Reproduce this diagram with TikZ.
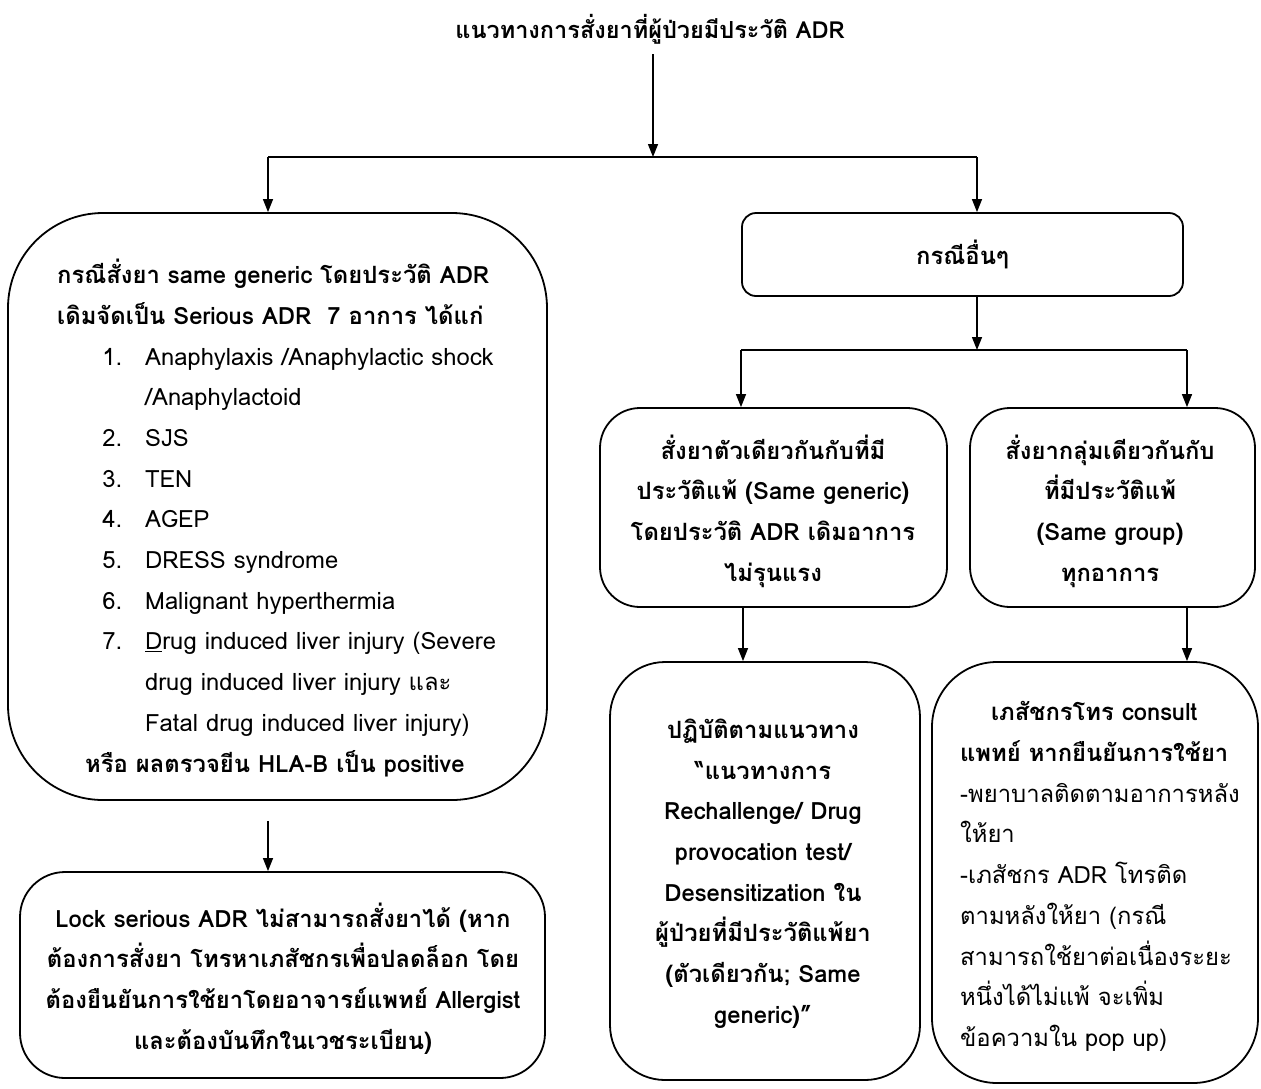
\documentclass[tikz,border=0pt]{standalone}
\usepackage{fontspec}
\setmainfont[Script=Thai]{Loma}
\usetikzlibrary{arrows.meta}
\begin{document}
\begin{tikzpicture}[x=1pt,y=-1pt,
  box/.style={draw, line width=1.8pt, inner sep=0pt},
  link/.style={line width=1.4pt},
  arr/.style={link, -{Triangle[length=13pt,width=10pt]}},
  body/.style={font=\fontsize{23.8}{40.7}\selectfont, inner sep=0pt},
  bodyb/.style={body, font=\bfseries\fontsize{23.8}{40.7}\selectfont, align=center}]
\useasboundingbox (0,0) rectangle (1261,1088);

% title
\node[font=\bfseries\fontsize{23.5}{26}\selectfont, inner sep=0pt] (T) at (650,29) {แนวทางการสั่งยาที่ผู้ป่วยมีประวัติ ADR};

% boxes
\node[box, rounded corners=95pt, minimum width=539pt, minimum height=587pt] (L) at (277.5,506.5) {};
\node[box, rounded corners=14pt, minimum width=441pt, minimum height=83pt] (O) at (962.5,254.5) {};
\node[box, rounded corners=40pt, minimum width=347pt, minimum height=199pt] (G) at (773.5,507.5) {};
\node[box, rounded corners=40pt, minimum width=285pt, minimum height=199pt] (P) at (1112.5,507.5) {};
\node[box, rounded corners=55pt, minimum width=310pt, minimum height=418pt] (R) at (765,871) {};
\node[box, rounded corners=65pt, minimum width=326pt, minimum height=421pt] (C) at (1095,872.5) {};
\node[box, rounded corners=45pt, minimum width=525pt, minimum height=206pt] (K) at (282.5,975) {};

% texts
\node[body, anchor=north west, align=left] (Ltxt) at (57,259) {%
{\bfseries กรณีสั่งยา same generic โดยประวัติ ADR}\\
{\bfseries เดิมจัดเป็น Serious ADR\ \ 7 อาการ ได้แก่}\\
\hspace*{48pt}\makebox[17pt][r]{1.}\hspace{23pt}Anaphylaxis /Anaphylactic shock\\
\hspace*{88pt}/Anaphylactoid\\
\hspace*{48pt}\makebox[17pt][r]{2.}\hspace{23pt}SJS\\
\hspace*{48pt}\makebox[17pt][r]{3.}\hspace{23pt}TEN\\
\hspace*{48pt}\makebox[17pt][r]{4.}\hspace{23pt}AGEP\\
\hspace*{48pt}\makebox[17pt][r]{5.}\hspace{23pt}DRESS syndrome\\
\hspace*{48pt}\makebox[17pt][r]{6.}\hspace{23pt}Malignant hyperthermia\\
\hspace*{48pt}\makebox[17pt][r]{7.}\hspace{23pt}\underline{D}rug induced liver injury (Severe\\
\hspace*{88pt}drug induced liver injury และ\\
\hspace*{88pt}Fatal drug induced liver injury)\\
\hspace*{28pt}{\bfseries หรือ ผลตรวจยีน HLA-B เป็น positive}};

\node[bodyb] (Otxt) at (O.center) {กรณีอื่นๆ};

\node[bodyb] (Gtxt) at (773,511) {%
สั่งยาตัวเดียวกันกับที่มี\\
ประวัติแพ้ (Same generic)\\
โดยประวัติ ADR เดิมอาการ\\
ไม่รุนแรง};

\node[bodyb] (Ptxt) at (1110,511) {%
สั่งยากลุ่มเดียวกันกับ\\
ที่มีประวัติแพ้\\
(Same group)\\
ทุกอาการ};

\node[bodyb] (Rtxt) at (763,873.5) {%
ปฏิบัติตามแนวทาง\\
“แนวทางการ\\
Rechallenge/ Drug\\
provocation test/\\
Desensitization ใน\\
ผู้ป่วยที่มีประวัติแพ้ยา\\
(ตัวเดียวกัน; Same\\
generic)”};

\node[body, align=left, anchor=west] (Ctxt) at (960,876.5) {%
\makebox[268pt]{\bfseries เภสัชกรโทร consult}\\
\makebox[268pt]{\bfseries แพทย์ หากยืนยันการใช้ยา}\\
-พยาบาลติดตามอาการหลัง\\
ให้ยา\\
-เภสัชกร ADR โทรติด\\
ตามหลังให้ยา (กรณี\\
สามารถใช้ยาต่อเนื่องระยะ\\
หนึ่งได้ไม่แพ้ จะเพิ่ม\\
ข้อความใน pop up)};

\node[bodyb] (Ktxt) at (283,978.5) {%
Lock serious ADR ไม่สามารถสั่งยาได้ (หาก\\
ต้องการสั่งยา โทรหาเภสัชกรเพื่อปลดล็อก โดย\\
ต้องยืนยันการใช้ยาโดยอาจารย์แพทย์ Allergist\\
และต้องบันทึกในเวชระเบียน)};

% connectors
\coordinate (j1) at (653,157);
\coordinate (j1l) at (268,157);
\coordinate (j1r) at (977,157);
\coordinate (j2) at (977,350);
\coordinate (j2l) at (741,350);
\coordinate (j2r) at (1187,350);
\coordinate (a3) at (743,0);
\coordinate (Lb) at ([yshift=-20pt]L.south);

\draw[arr] ([yshift=-10pt]T.south -| j1) -- (j1);
\draw[link] (j1l) -- (j1r);
\draw[arr] (j1l) -- (j1l |- L.north);
\draw[arr] (j1r) -- (j1r |- O.north);
\draw[arr] (O.south -| j2) -- (j2);
\draw[link] (j2l) -- (j2r);
\draw[arr] (j2l) -- (j2l |- G.north);
\draw[arr] (j2r) -- (j2r |- P.north);
\draw[arr] (G.south -| a3) -- (R.north -| a3);
\draw[arr] (P.south -| j2r) -- (C.north -| j2r);
\draw[arr] (Lb -| j1l) -- (K.north -| j1l);
\end{tikzpicture}
\end{document}
